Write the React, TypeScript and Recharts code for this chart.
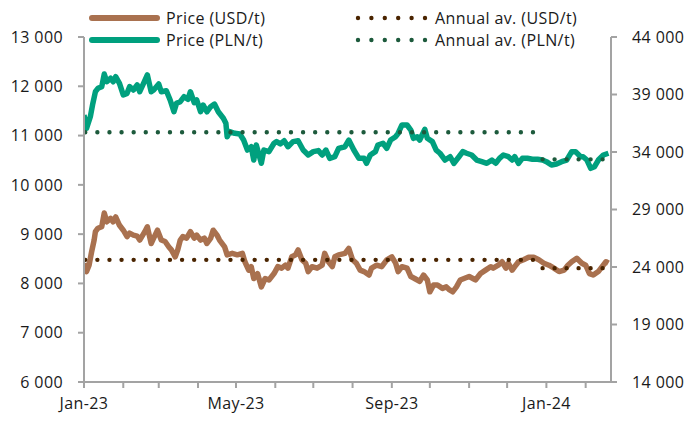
import React from 'react';
import { LineChart, Line, XAxis, YAxis } from 'recharts';

// Days since 2023-01-01
const usdDays = [0,2,4,6,8,9,11,14,16,18,21,23,25,28,31,34,36,39,42,44,48,50,53,55,58,61,64,67,69,72,74,76,78,81,84,87,89,92,95,97,100,102,105,107,111,113,117,121,125,127,130,132,134,137,140,143,146,150,153,156,159,161,164,167,169,172,175,177,180,184,188,190,193,196,198,201,206,209,212,215,218,221,225,227,231,235,239,243,246,248,251,255,258,261,265,268,271,273,276,279,283,286,288,291,294,297,300,304,307,309,313,317,321,323,327,330,333,335,338,340,343,347,351,355,359,363,367,371,375,379,382,385,389,393,396,399,402,406,409,412,414];
const usdValues = [8410,8240,8370,8640,8880,9050,9120,9150,9430,9250,9320,9250,9350,9180,9080,8950,9020,8980,8960,8880,9050,9150,8810,8920,9080,8880,8850,8740,8680,8540,8680,8880,8950,8920,9050,8920,8980,8880,8920,8810,8920,9080,8980,8880,8740,8580,8610,8580,8610,8440,8270,8340,8100,8200,7930,8100,8070,8200,8340,8310,8370,8310,8540,8580,8680,8480,8410,8240,8340,8310,8370,8610,8440,8340,8540,8580,8610,8710,8480,8410,8270,8240,8170,8310,8370,8340,8480,8540,8410,8240,8340,8310,8140,8100,8040,8170,8070,7830,7970,7970,7900,7930,7880,7830,7930,8070,8100,8140,8100,8070,8200,8270,8340,8310,8370,8440,8310,8410,8270,8340,8440,8480,8530,8530,8480,8410,8370,8310,8240,8270,8370,8440,8510,8410,8370,8200,8170,8240,8340,8440,8410];

const plnDays = [0,2,5,7,9,11,14,16,18,21,23,25,28,31,34,36,39,42,44,47,50,53,55,59,61,65,68,71,73,76,79,82,84,87,89,92,94,97,100,103,106,110,112,113,115,119,123,126,129,132,134,136,140,142,146,150,152,155,158,161,165,169,173,177,181,185,188,191,194,198,201,206,209,213,217,221,223,226,230,232,236,239,242,246,248,251,255,258,260,263,265,269,271,275,278,281,285,289,292,296,299,302,306,310,314,318,322,325,328,331,335,338,340,343,346,350,354,358,362,365,369,373,377,381,385,388,392,394,397,400,403,406,410,414];
const plnValues = [37220,36060,37070,38230,39240,39540,39680,40780,40110,40410,40110,40550,39970,38960,39100,39680,39390,39830,39240,39970,40700,39240,39390,39910,39240,39330,38520,37500,38230,38380,38810,38580,39240,38290,38520,37500,38090,37500,37940,38170,37500,36930,36500,35330,35770,35630,35570,35040,34170,34460,33300,34610,33020,34170,34030,34760,34900,34700,34980,34460,34900,34980,34170,33740,34030,34120,33740,34170,33450,33590,34320,34460,35040,34170,33450,33450,33020,33740,34030,34610,34760,34320,35040,35330,35630,36350,36350,35910,35190,35330,35040,35970,35190,34900,34170,33890,33300,33590,33020,33590,34030,33890,33740,33300,33160,33020,33300,33020,33450,33740,33590,33300,33590,33020,33450,33450,33370,33370,33300,33160,32870,32960,33160,33300,34030,34030,33590,33590,33300,32580,32720,33300,33740,33890];

const avgUsdDays2023 = [1, 355];
const avgUsd2023 = [8478, 8478];
const avgUsdDays2024 = [362, 414];
const avgUsd2024 = [8310, 8310];
const avgPlnDays2023 = [1, 355];
const avgPln2023 = [35720, 35720];
const avgPlnDays2024 = [362, 414];
const avgPln2024 = [33360, 33360];

const monthTickDays = [0,31,59,90,120,151,181,212,243,273,304,334,365,396];
const monthTickLabels = ['Jan-23','','','','May-23','','','','Sep-23','','','','Jan-24',''];
const usdTicks = [6000,7000,8000,9000,10000,11000,12000,13000];
const plnTicks = [14000,19000,24000,29000,34000,39000,44000];

const seriesNames = ['Price (USD/t)', 'Price (PLN/t)', 'Annual av. (USD/t)', 'Annual av. (PLN/t)'];

const USD_COLOR = '#a9714f';
const PLN_COLOR = '#00a07e';
const USD_AVG_COLOR = '#4a2400';
const PLN_AVG_COLOR = '#1d5a3c';
const AXIS_COLOR = '#a3a3a3';
const TEXT_COLOR = '#1a1a1a';
const FONT = '"Open Sans", sans-serif';

const toPoints = (days: number[], vals: number[]) => days.map((d, i) => ({ day: d, value: vals[i] }));
const fmt = (n: number) => String(n).replace(/\B(?=(\d{3})+(?!\d))/g, ' ');

const tickStyle = { fontSize: 16, fill: TEXT_COLOR, fontFamily: FONT, letterSpacing: 0.4 };

function LegendOverlay() {
  const rows = [
    { y: 18, solid: USD_COLOR, dots: USD_AVG_COLOR, a: seriesNames[0], b: seriesNames[2] },
    { y: 40, solid: PLN_COLOR, dots: PLN_AVG_COLOR, a: seriesNames[1], b: seriesNames[3] },
  ];
  return (
    <svg width={687} height={60} style={{ position: 'absolute', left: 0, top: 0, pointerEvents: 'none' }}>
      {rows.map((r, i) => (
        <g key={i}>
          <line x1={92} x2={157} y1={r.y} y2={r.y} stroke={r.solid} strokeWidth={6} strokeLinecap="round" />
          <text x={166} y={r.y} dominantBaseline="central" fontSize={16} fontFamily={FONT} fill={TEXT_COLOR} letterSpacing={0.4}>{r.a}</text>
          <line x1={358} x2={425} y1={r.y} y2={r.y} stroke={r.dots} strokeWidth={4.4} strokeLinecap="round" strokeDasharray="0 13.4" />
          <text x={435} y={r.y} dominantBaseline="central" fontSize={16} fontFamily={FONT} fill={TEXT_COLOR} letterSpacing={0.4}>{r.b}</text>
        </g>
      ))}
    </svg>
  );
}

export default function App() {
  return (
    <div style={{ position: 'absolute', left: 0, top: 0, width: 687, height: 425, background: '#fff' }}>
      <LineChart width={687} height={425} margin={{ top: 37, right: 0, bottom: 0, left: 0 }}>
        <XAxis
          dataKey="day"
          type="number"
          domain={[0, 416]}
          allowDataOverflow
          ticks={monthTickDays}
          interval={0}
          tickFormatter={(v: number) => monthTickLabels[monthTickDays.indexOf(v)] ?? ''}
          height={43}
          tickSize={6}
          tickMargin={10}
          axisLine={{ stroke: AXIS_COLOR, strokeWidth: 2 }}
          tickLine={{ stroke: AXIS_COLOR, strokeWidth: 2 }}
          tick={tickStyle}
        />
        <YAxis
          yAxisId="usd"
          orientation="left"
          width={84}
          domain={[6000, 13000]}
          ticks={usdTicks}
          interval={0}
          tickFormatter={fmt}
          tickSize={6}
          tickMargin={15}
          axisLine={{ stroke: AXIS_COLOR, strokeWidth: 2 }}
          tickLine={{ stroke: AXIS_COLOR, strokeWidth: 2 }}
          tick={tickStyle}
        />
        <YAxis
          yAxisId="pln"
          orientation="right"
          width={76}
          domain={[14000, 44000]}
          ticks={plnTicks}
          interval={0}
          tickFormatter={fmt}
          tickSize={6}
          tickMargin={15}
          axisLine={{ stroke: AXIS_COLOR, strokeWidth: 2 }}
          tickLine={{ stroke: AXIS_COLOR, strokeWidth: 2 }}
          tick={tickStyle}
        />
        <Line yAxisId="usd" data={toPoints(usdDays, usdValues)} dataKey="value" name={seriesNames[0]} stroke={USD_COLOR} strokeWidth={5.5} strokeLinejoin="round" dot={false} isAnimationActive={false} type="linear" />
        <Line yAxisId="pln" data={toPoints(plnDays, plnValues)} dataKey="value" name={seriesNames[1]} stroke={PLN_COLOR} strokeWidth={5.5} strokeLinejoin="round" dot={false} isAnimationActive={false} type="linear" />
        <Line yAxisId="usd" data={toPoints(avgUsdDays2023, avgUsd2023)} dataKey="value" name={seriesNames[2]} stroke={USD_AVG_COLOR} strokeWidth={4.4} strokeLinecap="round" strokeDasharray="0 12.1" dot={false} isAnimationActive={false} type="linear" />
        <Line yAxisId="usd" data={toPoints(avgUsdDays2024, avgUsd2024)} dataKey="value" name={seriesNames[2] + ' 2024'} stroke={USD_AVG_COLOR} strokeWidth={4.4} strokeLinecap="round" strokeDasharray="0 12" dot={false} isAnimationActive={false} type="linear" />
        <Line yAxisId="pln" data={toPoints(avgPlnDays2023, avgPln2023)} dataKey="value" name={seriesNames[3]} stroke={PLN_AVG_COLOR} strokeWidth={4.4} strokeLinecap="round" strokeDasharray="0 12.1" dot={false} isAnimationActive={false} type="linear" />
        <Line yAxisId="pln" data={toPoints(avgPlnDays2024, avgPln2024)} dataKey="value" name={seriesNames[3] + ' 2024'} stroke={PLN_AVG_COLOR} strokeWidth={4.4} strokeLinecap="round" strokeDasharray="0 12" dot={false} isAnimationActive={false} type="linear" />
      </LineChart>
      <LegendOverlay />
    </div>
  );
}
